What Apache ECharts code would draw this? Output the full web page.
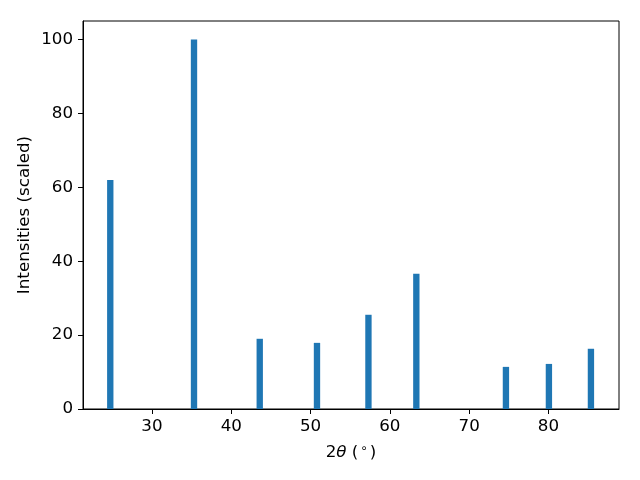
<!DOCTYPE html>
<html>
<head>
<meta charset="utf-8">
<script src="https://cdn.jsdelivr.net/npm/echarts@6/dist/echarts.min.js"></script>
<style>html,body{margin:0;padding:0;background:#fff}#c{width:640px;height:480px}</style>
</head>
<body>
<div id="c"></div>
<script>
const positions = [24.74, 35.30, 43.59, 50.81, 57.30, 63.34, 74.64, 80.06, 85.36];
const intensities = [62.0, 100.0, 19.0, 17.9, 25.5, 36.6, 11.4, 12.2, 16.3];
const xTicks = [30, 40, 50, 60, 70, 80];
const yTicks = [0, 20, 40, 60, 80, 100];
const barWidthUnits = 0.8;

const data = positions.map((p, i) => [p, intensities[i]]);
const font = 'DejaVu Sans';
const fs = 16.7;
const chart = echarts.init(document.getElementById('c'), null, {renderer: 'canvas'});
chart.setOption({
  animation: false,
  backgroundColor: '#fff',
  grid: {left: 83, right: 21, top: 21, bottom: 71, show: true, borderColor: '#000', borderWidth: 1, backgroundColor: 'transparent'},
  xAxis: {
    type: 'value', min: 21.3, max: 88.9,
    splitLine: {show: false},
    axisLine: {show: true, lineStyle: {color: '#000', width: 1}},
    axisTick: {show: true, inside: false, length: 5, lineStyle: {color: '#000'}, customValues: xTicks},
    axisLabel: {color: '#000', fontFamily: font, fontSize: fs, margin: 9, customValues: xTicks},
    name: '{n|2}{i|θ}{n| (}{s|∘}{n|)}',
    nameLocation: 'middle', nameGap: 34, nameMoveOverlap: false,
    nameTextStyle: {
      rich: {
        n: {fontFamily: font, fontSize: fs, color: '#000'},
        i: {fontFamily: font, fontSize: fs, fontStyle: 'italic', color: '#000'},
        s: {fontFamily: font, fontSize: 12, color: '#000', verticalAlign: 'top', padding: [0, 2, 8, 2]}
      }
    }
  },
  yAxis: {
    type: 'value', min: 0, max: 105,
    splitLine: {show: false},
    axisLine: {show: true, lineStyle: {color: '#000', width: 1}},
    axisTick: {show: true, inside: false, length: 5, lineStyle: {color: '#000'}, customValues: yTicks},
    axisLabel: {color: '#000', fontFamily: font, fontSize: fs, margin: 10, customValues: yTicks},
    name: 'Intensities (scaled)',
    nameLocation: 'middle', nameGap: 50, nameMoveOverlap: false,
    nameTextStyle: {fontFamily: font, fontSize: fs, color: '#000'}
  },
  series: [{
    type: 'custom',
    data: data,
    renderItem: function (params, api) {
      const x = api.value(0), y = api.value(1);
      const p0 = api.coord([x - barWidthUnits / 2, y]);
      const p1 = api.coord([x + barWidthUnits / 2, 0]);
      return {
        type: 'rect',
        shape: {x: p0[0], y: p0[1], width: p1[0] - p0[0], height: p1[1] - p0[1]},
        style: {fill: '#1f77b4'}
      };
    }
  }]
});
</script>
</body>
</html>
